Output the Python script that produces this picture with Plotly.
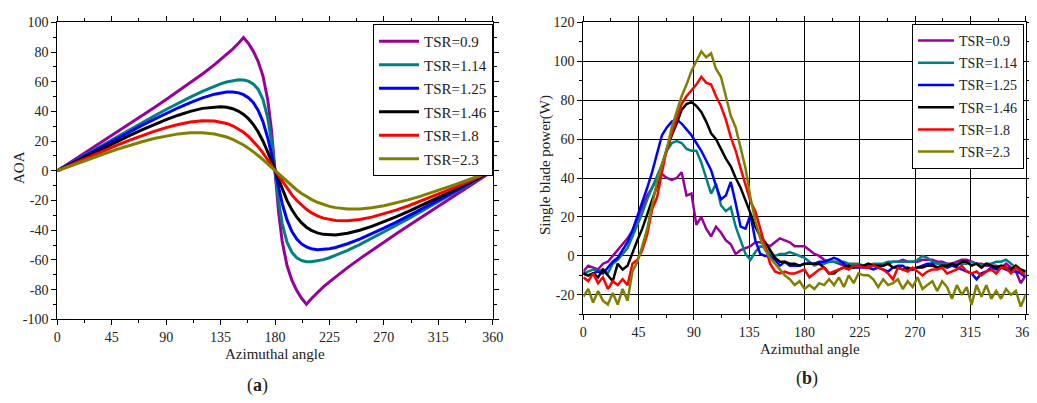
import plotly.graph_objects as go

# ---------------- data: panel (a) AOA vs azimuth ----------------
theta_a = [0, 10, 20, 30, 40, 50, 60, 70, 80, 90, 100, 110, 120, 130, 135, 140, 145, 150, 154, 158,
           162, 166, 170, 174, 177, 180, 183, 186, 190, 194, 198, 202, 206, 210, 215, 220, 225, 230,
           240, 250, 260, 270, 280, 290, 300, 310, 320, 330, 340, 350, 360]

aoa_09 = [0, 5.26, 10.53, 15.81, 21.10, 26.41, 31.74, 37.11, 42.53, 48.01, 53.59, 59.30, 65.20, 71.44,
          74.74, 78.22, 81.98, 86.11, 89.8, 85.85, 80.61, 73.80, 63.96, 47.88, 27.94, 0,
          -27.94, -47.88, -63.96, -73.80, -80.61, -85.85, -89.8, -86.11, -81.98, -78.22, -74.74, -71.44,
          -65.20, -59.30, -53.59, -48.01, -42.53, -37.11, -31.74, -26.41, -21.10, -15.81, -10.53, -5.26, 0]
aoa_114 = [0, 4.67, 9.34, 14.00, 18.64, 23.25, 27.83, 32.38, 36.86, 41.26, 45.54, 49.66, 53.53, 57.01,
           58.53, 59.81, 60.79, 61.28, 61.18, 60.40, 58.56, 54.95, 48.20, 35.69, 20.30, 0,
           -20.30, -35.69, -48.20, -54.95, -58.56, -60.40, -61.18, -61.28, -60.79, -59.81, -58.53, -57.01,
           -53.53, -49.66, -45.54, -41.26, -36.86, -32.38, -27.83, -23.25, -18.64, -14.00, -9.34, -4.67, 0]
aoa_125 = [0, 4.44, 8.88, 13.30, 17.68, 22.03, 26.33, 30.56, 34.68, 38.66, 42.46, 45.98, 49.11, 51.60,
           52.48, 53.02, 53.09, 52.48, 51.30, 49.25, 45.95, 40.86, 33.21, 22.24, 11.75, 0,
           -11.75, -22.24, -33.21, -40.86, -45.95, -49.25, -51.30, -52.48, -53.09, -53.02, -52.48, -51.60,
           -49.11, -45.98, -42.46, -38.66, -34.68, -30.56, -26.33, -22.03, -17.68, -13.30, -8.88, -4.44, 0]
aoa_146 = [0, 4.06, 8.11, 12.13, 16.11, 20.02, 23.84, 27.54, 31.08, 34.41, 37.44, 40.05, 42.05, 43.15,
           43.20, 42.81, 41.83, 40.09, 38.00, 35.11, 31.26, 26.29, 20.07, 12.65, 6.47, 0,
           -6.47, -12.65, -20.07, -26.29, -31.26, -35.11, -38.00, -40.09, -41.83, -42.81, -43.20, -43.15,
           -42.05, -40.05, -37.44, -34.41, -31.08, -27.54, -23.84, -20.02, -16.11, -12.13, -8.11, -4.06, 0]
aoa_18 = [0, 3.57, 7.12, 10.62, 14.06, 17.41, 20.63, 23.69, 26.52, 29.05, 31.19, 32.80, 33.67, 33.50,
          32.90, 31.87, 30.32, 28.16, 25.94, 23.23, 20.00, 16.26, 12.02, 7.39, 3.73, 0,
          -3.73, -7.39, -12.02, -16.26, -20.00, -23.23, -25.94, -28.16, -30.32, -31.87, -32.90, -33.50,
          -33.67, -32.80, -31.19, -29.05, -26.52, -23.69, -20.63, -17.41, -14.06, -10.62, -7.12, -3.57, 0]
aoa_23 = [0, 3.03, 6.03, 8.98, 11.84, 14.59, 17.19, 19.58, 21.71, 23.50, 24.85, 25.64, 25.69, 24.81,
          23.94, 22.74, 21.17, 19.22, 17.37, 15.26, 12.90, 10.31, 7.52, 4.58, 2.30, 0,
          -2.30, -4.58, -7.52, -10.31, -12.90, -15.26, -17.37, -19.22, -21.17, -22.74, -23.94, -24.81,
          -25.69, -25.64, -24.85, -23.50, -21.71, -19.58, -17.19, -14.59, -11.84, -8.98, -6.03, -3.03, 0]

# ---------------- data: panel (b) single blade power ----------------
theta_b = list(range(0, 361, 4))

p_09 = [-8, -5, -6, -7, -4, -3, 0, 3, 6, 9,
        13, 19, 25, 31, 35, 40, 42, 40, 39, 40,
        43, 31, 32, 16, 20, 14, 10, 15, 12, 8,
        6, 1, 3, 4, 5, 7, 7, 6, 5, 7,
        9, 8, 7, 5, 5, 5, 3, 1, 0, -2,
        -3, -3, -4, -5, -5, -5, -6, -5, -5, -5,
        -5, -5, -4, -3, -3, -2, -3, -3, -3, -2,
        -2, -2, -3, -3, -4, -4, -3, -2, -2, -3,
        -4, -4, -5, -5, -5, -6, -4, -6, -8, -14,
        -10]
p_114 = [-9, -8, -7, -8, -7, -9, -4, -2, 1, 4,
         10, 16, 22, 29, 35, 41, 47, 54, 58, 59,
         58, 55, 54, 54, 48, 40, 32, 37, 26, 23,
         25, 15, 8, 1, -2, 2, 5, 4, 1, 0,
         1, 1, 2, 1, 0, -1, -3, -5, -4, -4,
         -3, -3, -3, -3, -4, -4, -4, -5, -5, -4,
         -4, -4, -3, -3, -3, -3, -3, -3, -2, 0,
         -1, -3, -4, -4, -4, -5, -4, -4, -4, -3,
         -4, -5, -4, -4, -3, -3, -2, -4, -6, -8,
         -8]
p_125 = [-9, -10, -9, -8, -9, -6, -3, -1, 3, 7,
         13, 20, 27, 35, 43, 52, 62, 66, 69, 70,
         68, 65, 62, 58, 54, 49, 44, 36, 29, 31,
         38, 27, 15, 14, 21, 8, 1, 0, 0, -2,
         -5, -3, -5, -5, -5, -4, -4, -4, -3, -3,
         -2, -1, -2, -4, -6, -6, -6, -6, -6, -7,
         -6, -7, -8, -6, -5, -5, -7, -7, -6, -5,
         -4, -4, -6, -5, -6, -5, -6, -7, -8, -9,
         -12, -9, -8, -6, -7, -6, -7, -8, -8, -9,
         -11]
p_146 = [-9, -10, -9, -11, -7, -10, -13, -4, -7, -5,
         2, 8, 14, 21, 28, 36, 46, 55, 62, 68,
         75, 78, 79, 77, 74, 69, 63, 60, 55, 50,
         46, 40, 35, 29, 22, 15, 10, 7, 3, -1,
         -3, -3, -4, -4, -5, -4, -4, -4, -4, -6,
         -9, -9, -7, -6, -5, -6, -5, -5, -4, -5,
         -5, -5, -4, -6, -6, -7, -6, -7, -6, -6,
         -5, -5, -6, -5, -5, -4, -5, -3, -3, -5,
         -4, -6, -4, -5, -6, -5, -6, -7, -5, -7,
         -8]
p_18 = [-11, -13, -9, -14, -11, -17, -13, -15, -12, -15,
        -4, -2, 3, 11, 24, 30, 43, 55, 63, 70,
        78, 82, 85, 88, 92, 89, 88, 82, 77, 70,
        61, 54, 45, 36, 28, 23, 14, 4, -4, -8,
        -9, -8, -9, -9, -8, -7, -11, -9, -7, -6,
        -9, -8, -7, -6, -7, -5, -5, -6, -6, -5,
        -6, -7, -9, -12, -6, -7, -8, -6, -8, -10,
        -8, -7, -7, -6, -9, -8, -7, -5, -8, -9,
        -8, -10, -8, -7, -9, -6, -6, -9, -6, -8,
        -10]
p_23 = [-21, -17, -24, -18, -23, -25, -19, -25, -17, -23,
        -8, -3, 5, 14, 26, 38, 47, 55, 66, 74,
        82, 88, 95, 100, 105, 102, 104, 96, 92, 82,
        72, 66, 55, 45, 30, 18, 9, 3, -1, -4,
        -7, -10, -12, -15, -13, -17, -15, -17, -14, -15,
        -12, -15, -11, -16, -10, -14, -9, -10, -10, -12,
        -16, -12, -15, -14, -12, -17, -13, -16, -11, -17,
        -15, -13, -18, -13, -16, -22, -15, -20, -16, -25,
        -15, -21, -15, -22, -18, -22, -17, -20, -18, -26,
        -20]

names = ["TSR=0.9", "TSR=1.14", "TSR=1.25", "TSR=1.46", "TSR=1.8", "TSR=2.3"]
colors = ["#990099", "#008080", "#0000FF", "#000000", "#FF0000", "#808000"]
aoa_series = [aoa_09, aoa_114, aoa_125, aoa_146, aoa_18, aoa_23]
pow_series = [p_09, p_114, p_125, p_146, p_18, p_23]

x_ticks = [0, 45, 90, 135, 180, 225, 270, 315, 360]
y_ticks_a = [-100, -80, -60, -40, -20, 0, 20, 40, 60, 80, 100]
y_ticks_b = [-20, 0, 20, 40, 60, 80, 100, 120]

FONT = "Liberation Serif"
TXT = "#222222"

# page body adds an 8px margin; positions below are given in window pixels
OFF = 8
W, H = 1037, 403


def px(x):   # window x pixel -> paper x
    return (x - OFF) / W


def py(y):   # window y pixel -> paper y
    return 1 - (y - OFF) / H


fig = go.Figure()
for i, (nm, c, ys) in enumerate(zip(names, colors, aoa_series)):
    fig.add_trace(go.Scatter(x=theta_a, y=ys, mode="lines", name=nm,
                             line=dict(color=c, width=3), xaxis="x", yaxis="y",
                             legend="legend", legendgroup="a%d" % i))
for i, (nm, c, ys) in enumerate(zip(names, colors, pow_series)):
    fig.add_trace(go.Scatter(x=theta_b, y=ys, mode="lines", name=nm,
                             line=dict(color=c, width=2.5), xaxis="x2", yaxis="y2",
                             legend="legend2", legendgroup="b%d" % i))

tickfont = dict(family=FONT, size=14, color=TXT)
common = dict(showline=True, linecolor="black", linewidth=1, mirror="ticks",
              ticks="outside", ticklen=5, tickcolor="black", tickfont=tickfont,
              zeroline=False, automargin=False, tickmode="array",
              ticklabeloverflow="allow")


def lab(v):
    return [str(t) for t in v]


fig.update_layout(
    template="none",
    width=W, height=H,
    margin=dict(l=0, r=0, t=0, b=0, autoexpand=False),
    paper_bgcolor="white", plot_bgcolor="white",
    font=dict(family=FONT, color=TXT),
    xaxis=dict(domain=[px(57.3), px(492.7)], anchor="y", range=[0, 360],
               tickvals=x_ticks, ticktext=lab(x_ticks),
               minor=dict(dtick=22.5, tick0=0, ticks="outside", ticklen=3, tickcolor="black"),
               showgrid=False, **common),
    yaxis=dict(domain=[py(319.3), py(22.3)], anchor="x", range=[-100, 100],
               tickvals=y_ticks_a, ticktext=lab(y_ticks_a),
               minor=dict(dtick=10, tick0=0, ticks="outside", ticklen=3, tickcolor="black"),
               showgrid=False, **common),
    xaxis2=dict(domain=[px(583.3), px(1025.7)], anchor="y2", range=[0, 360],
                tickvals=x_ticks, ticktext=lab(x_ticks),
                minor=dict(dtick=22.5, tick0=0, ticks="outside", ticklen=3, tickcolor="black"),
                showgrid=True, gridcolor="black", gridwidth=1.3, **common),
    yaxis2=dict(domain=[py(314.3), py(22.3)], anchor="x2", range=[-30, 120],
                tickvals=y_ticks_b, ticktext=lab(y_ticks_b),
                minor=dict(dtick=10, tick0=0, ticks="outside", ticklen=3, tickcolor="black"),
                showgrid=True, gridcolor="black", gridwidth=1.3, **common),
    legend=dict(x=px(493), y=py(24), xanchor="right", yanchor="top",
                bgcolor="white", bordercolor="black", borderwidth=1,
                font=dict(family=FONT, size=15, color=TXT), itemwidth=40,
                tracegroupgap=1),
    legend2=dict(x=px(1024), y=py(24), xanchor="right", yanchor="top",
                 bgcolor="white", bordercolor="black", borderwidth=1,
                 font=dict(family=FONT, size=14, color=TXT), itemwidth=36,
                 tracegroupgap=1),
    showlegend=True,
)

ann = [
    dict(text="Azimuthal angle", x=275, y=354, size=15, angle=0),
    dict(text="Azimuthal angle", x=810, y=349, size=15, angle=0),
    dict(text="AOA", x=19, y=168, size=15, angle=-90),
    dict(text="Single blade power(W)", x=545, y=165, size=15, angle=-90),
    dict(text="(<b>a</b>)", x=257, y=385, size=18, angle=0),
    dict(text="(<b>b</b>)", x=807, y=378, size=18, angle=0),
]
for a in ann:
    fig.add_annotation(text=a["text"], x=px(a["x"]), y=py(a["y"]), xref="paper", yref="paper",
                       xanchor="center", yanchor="middle", showarrow=False,
                       textangle=a["angle"], font=dict(family=FONT, size=a["size"], color=TXT))

fig.write_html("out.html")
